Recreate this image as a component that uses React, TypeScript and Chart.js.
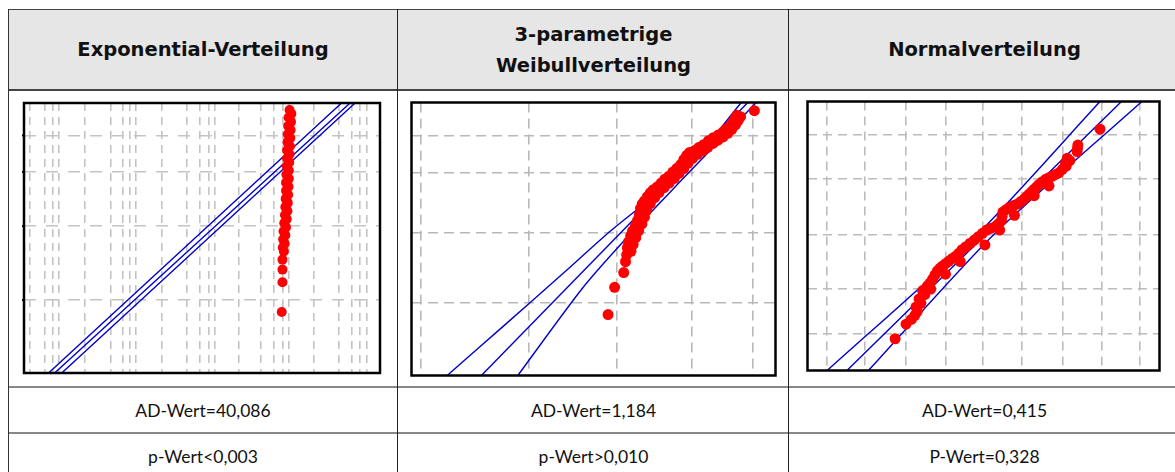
import React, { useEffect, useRef } from "react";
import { Chart, registerables } from "chart.js";
Chart.register(...registerables);

// ---------- Chart 1: Exponential-Verteilung ----------
const expGridX = [1.75, 5.9, 8.0, 9.8, 17.0, 24.3, 27.7, 29.8, 31.4, 38.8, 45.8, 49.4, 51.8, 53.6, 60.4, 66.6, 70.3, 72.6, 74.3, 81.4, 88.3, 92.0, 94.4, 96.2];
const expGridY = [27.0, 54.4, 74.5, 88.0];
const expPointsX = [74.6, 75.1, 74.3, 75.0, 74.2, 74.9, 74.1, 74.8, 74.0, 74.7, 73.9, 74.6, 73.9, 74.5, 73.8, 74.4, 73.7, 74.4, 73.6, 74.3, 73.6, 74.2, 73.5, 74.1, 73.4, 74.0, 73.3, 73.8, 73.1, 73.6, 72.9, 73.4, 72.8, 73.2, 72.7, 73.0, 72.6, 72.6, 72.6, 72.4];
const expPointsY = [97.4, 96.0, 94.6, 93.0, 91.5, 90.0, 88.4, 87.0, 85.5, 84.0, 82.5, 81.0, 79.5, 78.0, 76.5, 75.0, 73.5, 72.0, 70.5, 69.0, 67.5, 66.0, 64.5, 63.0, 61.5, 60.0, 58.5, 57.0, 55.5, 54.0, 52.5, 51.0, 49.5, 48.0, 46.5, 45.0, 42.0, 38.3, 33.6, 22.6];
const expLowerX = [6.9, 89.2];
const expLowerY = [0, 100];
const expFitX = [8.6, 91.6];
const expFitY = [0, 100];
const expUpperX = [10.6, 93.0];
const expUpperY = [0, 100];

// ---------- Chart 2: 3-parametrige Weibullverteilung ----------
const weiGridX = [2.5, 32.3, 56.5, 76.9, 93.9];
const weiGridY = [26.5, 52.3, 74.2, 87.7];
const weiPointsX = [54.0, 55.8, 58.3, 58.8, 59.1, 59.3, 59.6, 60.2, 60.7, 61.5, 62.1, 62.6, 62.9, 63.4, 64.0, 64.8, 65.6, 66.4, 67.5, 68.6, 69.6, 70.7, 71.8, 72.9, 74.0, 74.8, 75.6, 76.4, 77.8, 78.9, 80.2, 81.6, 82.9, 84.3, 85.6, 86.4, 87.5, 88.3, 88.9, 89.4, 94.2,
  60.3, 60.9, 61.6, 62.4, 63.3, 64.0, 64.6, 65.6, 66.8, 68.0, 69.4, 70.8, 72.2, 73.5, 74.8, 76.0, 77.2, 78.6, 80.0, 81.4, 82.8, 84.2, 85.6, 86.9, 88.0, 89.0, 89.8, 90.4];
const weiPointsY = [22.3, 32.3, 37.7, 41.7, 44.2, 46.8, 48.9, 51.1, 52.9, 54.7, 56.8, 59.0, 61.2, 62.9, 64.0, 65.5, 66.9, 68.0, 69.1, 70.5, 71.9, 73.0, 74.5, 75.9, 77.3, 79.1, 80.6, 81.7, 82.4, 83.5, 84.5, 86.0, 87.1, 88.1, 89.2, 90.3, 91.4, 92.8, 94.2, 95.3, 97.0,
  45.5, 48.0, 50.5, 53.0, 55.5, 58.0, 60.5, 63.0, 65.2, 67.0, 68.8, 70.5, 72.2, 74.0, 75.8, 77.8, 79.5, 81.0, 82.3, 83.6, 85.0, 86.2, 87.4, 88.7, 90.2, 91.8, 93.5, 94.8];
const weiLowerX = [9.8, 25.1, 42.3, 54.9, 75.7, 90.6];
const weiLowerY = [0, 17.9, 38.2, 53.2, 76.0, 100];
const weiFitX = [19.2, 92.4];
const weiFitY = [0, 100];
const weiUpperX = [29.2, 46.8, 59.4, 74.8, 94.7];
const weiUpperY = [0, 31.7, 50.8, 72.4, 100];

// ---------- Chart 3: Normalverteilung ----------
const norGridX = [5.6, 16.2, 28.0, 39.2, 49.9, 60.9, 72.6, 83.6, 94.3];
const norGridY = [13.5, 30.5, 50.4, 71.4, 87.7];
const norPointsX = [24.9, 28.0, 30.5, 30.8, 31.7, 32.7, 34.1, 35.5, 36.9, 38.3, 40.1, 42.0, 43.9, 46.2, 48.5, 50.9, 53.2, 55.1, 55.5, 57.4, 59.7, 61.6, 63.0, 64.4, 65.8, 67.7, 69.6, 71.4, 73.3, 73.8, 76.6, 76.8, 83.1,
  35.0, 39.2, 43.4, 50.4, 54.6, 58.8, 64.4, 68.6,
  29.5, 31.2, 32.2, 33.3, 34.8, 36.2, 37.6, 39.2, 41.0, 43.0, 45.0, 47.4, 49.7, 52.0, 54.2, 55.3, 56.4, 58.5, 60.6, 62.3, 63.7, 65.1, 66.7, 68.6, 70.5, 72.4, 73.5, 76.7, 74.5];
const norPointsY = [11.8, 17.2, 20.5, 23.6, 26.6, 29.7, 31.5, 33.9, 37.0, 38.8, 40.6, 42.4, 44.9, 47.3, 49.7, 52.2, 53.4, 55.8, 58.9, 60.7, 61.9, 63.8, 65.6, 67.4, 69.2, 71.1, 72.3, 73.5, 77.1, 78.9, 81.4, 83.8, 89.7,
  30.3, 35.8, 40.5, 46.7, 52.2, 57.7, 65.0, 68.6,
  19.0, 22.0, 25.0, 28.2, 32.5, 35.5, 38.0, 39.7, 41.5, 43.6, 46.0, 48.5, 51.0, 52.8, 54.5, 57.3, 59.8, 61.3, 62.8, 64.7, 66.5, 68.3, 70.2, 71.7, 72.9, 74.8, 76.0, 82.6, 78.0];
const norLowerX = [5.6, 48.1, 83.1];
const norLowerY = [0, 50.4, 100];
const norFitX = [11.2, 89.2];
const norFitY = [0, 100];
const norUpperX = [17.3, 52.8, 95.0];
const norUpperY = [0, 50.4, 100];

const headers = ["Exponential-Verteilung", "3-parametrige\nWeibullverteilung", "Normalverteilung"];
const adValues = ["AD-Wert=40,086", "AD-Wert=1,184", "AD-Wert=0,415"];
const pValues = ["p-Wert<0,003", "p-Wert>0,010", "P-Wert=0,328"];

const zip = (xs: number[], ys: number[]) => xs.map((x, i) => ({ x, y: ys[i] }));

type PlotSpec = {
  gridX: number[];
  gridY: number[];
  px: number[];
  py: number[];
  lines: [number[], number[]][];
  radius: number;
  dashX: number[];
  dashY: number[];
  gridColor: string;
  gridWidth: number;
  leftTicks?: boolean;
};

function Plot({ spec, left, top, width, height }: { spec: PlotSpec; left: number; top: number; width: number; height: number }) {
  const ref = useRef<HTMLCanvasElement | null>(null);
  useEffect(() => {
    if (!ref.current) return;
    const frame = {
      id: "frame",
      afterDraw(chart: any) {
        const { ctx, chartArea } = chart;
        ctx.save();
        ctx.strokeStyle = "#000";
        ctx.lineWidth = 2.5;
        ctx.strokeRect(chartArea.left, chartArea.top, chartArea.right - chartArea.left, chartArea.bottom - chartArea.top);
        if (spec.leftTicks) {
          const ys = chart.scales.y;
          ctx.lineWidth = 2;
          spec.gridY.forEach((v) => {
            const p = ys.getPixelForValue(v);
            ctx.beginPath();
            ctx.moveTo(chartArea.left - 2, p);
            ctx.lineTo(chartArea.left + 1, p);
            ctx.stroke();
          });
        }
        ctx.restore();
      },
    };
    const datasets: any[] = [
      {
        data: zip(spec.px, spec.py),
        backgroundColor: "#ff0000",
        borderWidth: 0,
        pointRadius: spec.radius,
        showLine: false,
        order: 0,
      },
      ...spec.lines.map(([xs, ys]) => ({
        data: zip(xs, ys),
        showLine: true,
        borderColor: "#0000cc",
        borderWidth: 1.4,
        pointRadius: 0,
        fill: false,
        tension: 0.25,
        order: 1,
      })),
    ];
    const chart = new Chart(ref.current, {
      type: "scatter",
      data: { datasets },
      options: {
        animation: false,
        responsive: false,
        devicePixelRatio: 1,
        layout: { padding: 3 },
        plugins: { legend: { display: false }, tooltip: { enabled: false } },
        scales: {
          x: {
            type: "linear",
            min: 0,
            max: 100,
            ticks: { display: false },
            grid: { color: spec.gridColor, lineWidth: spec.gridWidth, drawTicks: false },
            border: { display: false, dash: spec.dashX },
            afterBuildTicks: (axis: any) => {
              axis.ticks = spec.gridX.map((v) => ({ value: v }));
            },
          },
          y: {
            type: "linear",
            min: 0,
            max: 100,
            ticks: { display: false },
            grid: { color: spec.gridColor, lineWidth: spec.gridWidth, drawTicks: false },
            border: { display: false, dash: spec.dashY },
            afterBuildTicks: (axis: any) => {
              axis.ticks = spec.gridY.map((v) => ({ value: v }));
            },
          },
        },
      },
      plugins: [frame],
    });
    return () => chart.destroy();
  }, []);
  return (
    <canvas
      ref={ref}
      width={width}
      height={height}
      style={{ position: "absolute", left, top, width, height }}
    />
  );
}

const specs: PlotSpec[] = [
  {
    gridX: expGridX,
    gridY: expGridY,
    px: expPointsX,
    py: expPointsY,
    lines: [[expLowerX, expLowerY], [expFitX, expFitY], [expUpperX, expUpperY]],
    radius: 5,
    dashX: [8, 6],
    dashY: [12, 10],
    gridColor: "#c4c4c4",
    gridWidth: 1.6,
    leftTicks: true,
  },
  {
    gridX: weiGridX,
    gridY: weiGridY,
    px: weiPointsX,
    py: weiPointsY,
    lines: [[weiLowerX, weiLowerY], [weiFitX, weiFitY], [weiUpperX, weiUpperY]],
    radius: 5.5,
    dashX: [10, 6],
    dashY: [10, 6],
    gridColor: "#b8b8b8",
    gridWidth: 1.6,
  },
  {
    gridX: norGridX,
    gridY: norGridY,
    px: norPointsX,
    py: norPointsY,
    lines: [[norLowerX, norLowerY], [norFitX, norFitY], [norUpperX, norUpperY]],
    radius: 5.5,
    dashX: [9, 6],
    dashY: [9, 6],
    gridColor: "#bcbcbc",
    gridWidth: 1.6,
  },
];

const colLeft = [8, 398, 789];
const colRight = [398, 789, 1180];

const line = (left: number, top: number, width: number, height: number, color: string) => (
  <div style={{ position: "absolute", left, top, width, height, background: color }} />
);

export default function App() {
  return (
    <div style={{ position: "absolute", left: 0, top: 0, width: 1175, height: 472, overflow: "hidden", background: "#fff", fontFamily: "Lato, 'Open Sans', sans-serif", color: "#111" }}>
      <div style={{ position: "absolute", left: 8, top: 9, width: 1197, height: 81, background: "#e6e6e6" }} />
      {headers.map((h, i) => (
        <div
          key={"h" + i}
          style={{
            position: "absolute",
            left: colLeft[i],
            top: 9,
            width: colRight[i] - colLeft[i],
            height: 81,
            display: "flex",
            alignItems: "center",
            justifyContent: "center",
            textAlign: "center",
            whiteSpace: "pre-line",
            fontFamily: "'DejaVu Sans', sans-serif",
            fontWeight: 700,
            fontSize: 19.5,
            lineHeight: "31px",
          }}
        >
          {h}
        </div>
      ))}
      {adValues.map((t, i) => (
        <div
          key={"a" + i}
          style={{ position: "absolute", left: colLeft[i], top: 387, width: colRight[i] - colLeft[i], height: 46, display: "flex", alignItems: "center", justifyContent: "center", fontSize: 17.5 }}
        >
          {t}
        </div>
      ))}
      {pValues.map((t, i) => (
        <div
          key={"p" + i}
          style={{ position: "absolute", left: colLeft[i], top: 433, width: colRight[i] - colLeft[i], height: 46, display: "flex", alignItems: "center", justifyContent: "center", fontSize: 17.5 }}
        >
          {t}
        </div>
      ))}
      <Plot spec={specs[0]} left={19} top={98} width={366} height={280} />
      <Plot spec={specs[1]} left={406} top={97} width={375} height={284} />
      <Plot spec={specs[2]} left={802} top={96} width={363} height={280} />
      {line(8, 9, 1197, 1, "#444")}
      {line(8, 89, 1197, 2, "#444")}
      {line(8, 386, 1197, 2, "#888")}
      {line(8, 432, 1197, 2, "#888")}
      {line(8, 9, 1, 463, "#333")}
      {line(397, 9, 1, 463, "#222")}
      {line(788, 9, 1, 463, "#222")}
    </div>
  );
}
